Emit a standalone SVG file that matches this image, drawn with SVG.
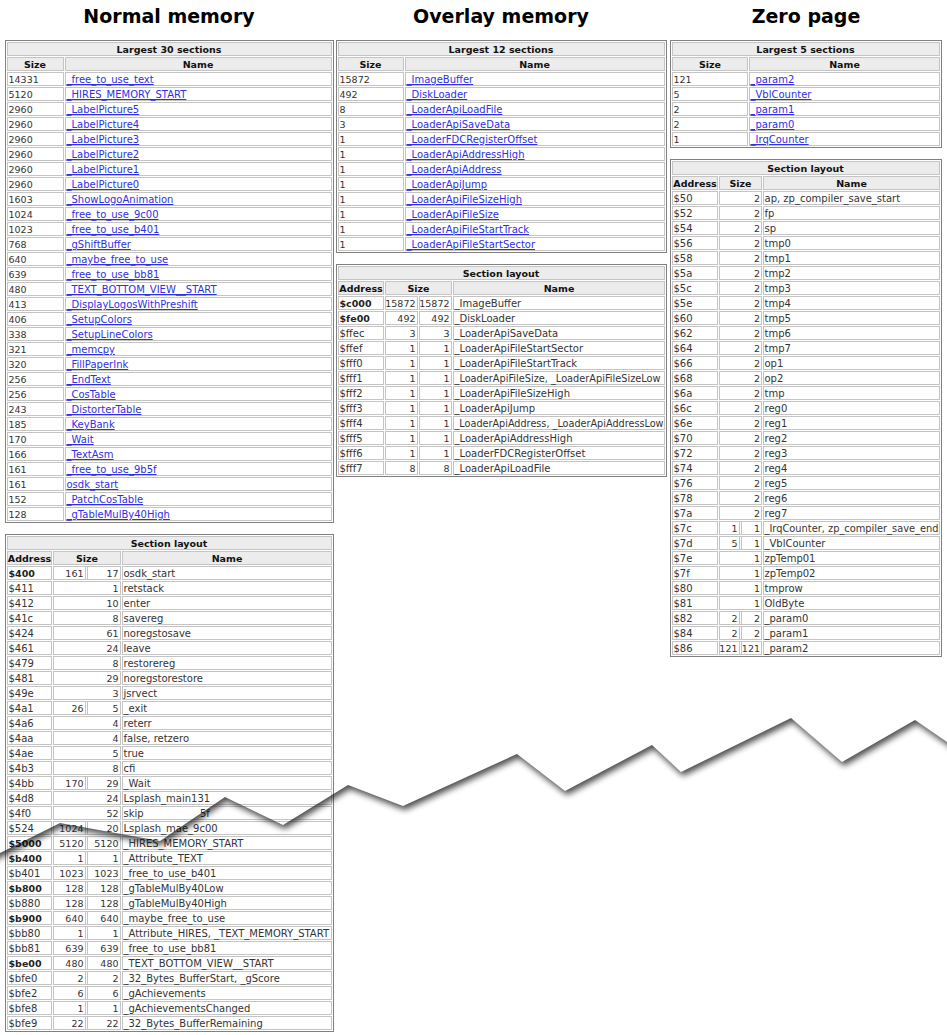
<svg xmlns="http://www.w3.org/2000/svg" width="947" height="1035" viewBox="0 0 947 1035">
<style>
text{font-family:"DejaVu Sans",Verdana,sans-serif;font-size:10px;fill:#333}
.t{font-weight:bold;font-size:19px;fill:#000;text-anchor:middle}
.h{font-weight:bold;font-size:9.5px;fill:#111;text-anchor:middle}
.n{font-size:9.5px}
.r{font-size:9.5px;text-anchor:end}
.b{font-weight:bold;font-size:9.5px;fill:#222}
.a{fill:#2f2fe6;text-decoration:underline}
.hd{fill:#ececec;stroke:#c4c4c4;stroke-width:1}
.ob{fill:none;stroke:#808080;stroke-width:1}
.vl{stroke:#c4c4c4;stroke-width:1;stroke-dasharray:14 1;fill:none}
.g{fill:url(#hl)}
</style>
<defs>
<pattern id="hl" width="10" height="15" patternUnits="userSpaceOnUse">
<rect x="0" y="0" width="10" height="1" fill="#c4c4c4"/>
<rect x="0" y="13" width="10" height="1" fill="#c4c4c4"/>
</pattern>
<clipPath id="below">
<path d="M-20,863 L0,853 L60,823 L160,841 L225,797 L283,825 L348,785 L403,806 L517,754 L565,791 L652,745 L681,772 L791,718 L842,762 L915,720 L947,742 L967,756 V1100 H-20 Z"/>
</clipPath>
<filter id="sh" filterUnits="userSpaceOnUse" x="-60" y="-60" width="1100" height="1200">
<feGaussianBlur in="SourceAlpha" stdDeviation="3.2"/>
<feOffset dx="2" dy="4"/>
<feComponentTransfer><feFuncA type="linear" slope="0.7"/></feComponentTransfer>
</filter>
</defs>
<rect width="947" height="1035" fill="#fff"/>

<text class="t" x="169" y="23">Normal memory</text>
<text class="t" x="501" y="23">Overlay memory</text>
<text class="t" x="806" y="23">Zero page</text>

<!-- Normal memory: Largest 30 sections -->
<g id="normal-largest">
<rect class="ob" x="5.5" y="40.5" width="328" height="482"/>
<rect class="hd" x="7.5" y="42.5" width="324" height="13"/>
<rect class="hd" x="7.5" y="57.5" width="56" height="13"/>
<rect class="hd" x="65.5" y="57.5" width="266" height="13"/>
<text class="h" x="169" y="53">Largest 30 sections</text>
<text class="h" x="35" y="68">Size</text>
<text class="h" x="198" y="68">Name</text>
<g transform="translate(0,72)">
<rect class="g" x="7" y="0" width="57" height="450"/>
<rect class="g" x="65" y="0" width="267" height="450"/>
<path class="vl" d="M7.5,0V450M63.5,0V450M65.5,0V450M331.5,0V450"/>
</g>
<text class="n" x="8.5" y="83">14331</text><text class="a" x="66.5" y="83">_free_to_use_text</text>
<text class="n" x="8.5" y="98">5120</text><text class="a" x="66.5" y="98">_HIRES_MEMORY_START</text>
<text class="n" x="8.5" y="113">2960</text><text class="a" x="66.5" y="113">_LabelPicture5</text>
<text class="n" x="8.5" y="128">2960</text><text class="a" x="66.5" y="128">_LabelPicture4</text>
<text class="n" x="8.5" y="143">2960</text><text class="a" x="66.5" y="143">_LabelPicture3</text>
<text class="n" x="8.5" y="158">2960</text><text class="a" x="66.5" y="158">_LabelPicture2</text>
<text class="n" x="8.5" y="173">2960</text><text class="a" x="66.5" y="173">_LabelPicture1</text>
<text class="n" x="8.5" y="188">2960</text><text class="a" x="66.5" y="188">_LabelPicture0</text>
<text class="n" x="8.5" y="203">1603</text><text class="a" x="66.5" y="203">_ShowLogoAnimation</text>
<text class="n" x="8.5" y="218">1024</text><text class="a" x="66.5" y="218">_free_to_use_9c00</text>
<text class="n" x="8.5" y="233">1023</text><text class="a" x="66.5" y="233">_free_to_use_b401</text>
<text class="n" x="8.5" y="248">768</text><text class="a" x="66.5" y="248">_gShiftBuffer</text>
<text class="n" x="8.5" y="263">640</text><text class="a" x="66.5" y="263">_maybe_free_to_use</text>
<text class="n" x="8.5" y="278">639</text><text class="a" x="66.5" y="278">_free_to_use_bb81</text>
<text class="n" x="8.5" y="293">480</text><text class="a" x="66.5" y="293">_TEXT_BOTTOM_VIEW__START</text>
<text class="n" x="8.5" y="308">413</text><text class="a" x="66.5" y="308">_DisplayLogosWithPreshift</text>
<text class="n" x="8.5" y="323">406</text><text class="a" x="66.5" y="323">_SetupColors</text>
<text class="n" x="8.5" y="338">338</text><text class="a" x="66.5" y="338">_SetupLineColors</text>
<text class="n" x="8.5" y="353">321</text><text class="a" x="66.5" y="353">_memcpy</text>
<text class="n" x="8.5" y="368">320</text><text class="a" x="66.5" y="368">_FillPaperInk</text>
<text class="n" x="8.5" y="383">256</text><text class="a" x="66.5" y="383">_EndText</text>
<text class="n" x="8.5" y="398">256</text><text class="a" x="66.5" y="398">_CosTable</text>
<text class="n" x="8.5" y="413">243</text><text class="a" x="66.5" y="413">_DistorterTable</text>
<text class="n" x="8.5" y="428">185</text><text class="a" x="66.5" y="428">_KeyBank</text>
<text class="n" x="8.5" y="443">170</text><text class="a" x="66.5" y="443">_Wait</text>
<text class="n" x="8.5" y="458">166</text><text class="a" x="66.5" y="458">_TextAsm</text>
<text class="n" x="8.5" y="473">161</text><text class="a" x="66.5" y="473">_free_to_use_9b5f</text>
<text class="n" x="8.5" y="488">161</text><text class="a" x="66.5" y="488">osdk_start</text>
<text class="n" x="8.5" y="503">152</text><text class="a" x="66.5" y="503">_PatchCosTable</text>
<text class="n" x="8.5" y="518">128</text><text class="a" x="66.5" y="518">_gTableMulBy40High</text>
</g>

<!-- Overlay memory: Largest 12 sections -->
<g id="overlay-largest">
<rect class="ob" x="336.5" y="40.5" width="330" height="212"/>
<rect class="hd" x="338.5" y="42.5" width="326" height="13"/>
<rect class="hd" x="338.5" y="57.5" width="65" height="13"/>
<rect class="hd" x="405.5" y="57.5" width="259" height="13"/>
<text class="h" x="501" y="53">Largest 12 sections</text>
<text class="h" x="370.5" y="68">Size</text>
<text class="h" x="534.5" y="68">Name</text>
<g transform="translate(0,72)">
<rect class="g" x="338" y="0" width="66" height="180"/>
<rect class="g" x="405" y="0" width="260" height="180"/>
<path class="vl" d="M338.5,0V180M403.5,0V180M405.5,0V180M664.5,0V180"/>
</g>
<text class="n" x="339.5" y="83">15872</text><text class="a" x="406.5" y="83">_ImageBuffer</text>
<text class="n" x="339.5" y="98">492</text><text class="a" x="406.5" y="98">_DiskLoader</text>
<text class="n" x="339.5" y="113">8</text><text class="a" x="406.5" y="113">_LoaderApiLoadFile</text>
<text class="n" x="339.5" y="128">3</text><text class="a" x="406.5" y="128">_LoaderApiSaveData</text>
<text class="n" x="339.5" y="143">1</text><text class="a" x="406.5" y="143">_LoaderFDCRegisterOffset</text>
<text class="n" x="339.5" y="158">1</text><text class="a" x="406.5" y="158">_LoaderApiAddressHigh</text>
<text class="n" x="339.5" y="173">1</text><text class="a" x="406.5" y="173">_LoaderApiAddress</text>
<text class="n" x="339.5" y="188">1</text><text class="a" x="406.5" y="188">_LoaderApiJump</text>
<text class="n" x="339.5" y="203">1</text><text class="a" x="406.5" y="203">_LoaderApiFileSizeHigh</text>
<text class="n" x="339.5" y="218">1</text><text class="a" x="406.5" y="218">_LoaderApiFileSize</text>
<text class="n" x="339.5" y="233">1</text><text class="a" x="406.5" y="233">_LoaderApiFileStartTrack</text>
<text class="n" x="339.5" y="248">1</text><text class="a" x="406.5" y="248">_LoaderApiFileStartSector</text>
</g>

<!-- Zero page: Largest 5 sections -->
<g id="zero-largest">
<rect class="ob" x="670.5" y="40.5" width="271" height="107"/>
<rect class="hd" x="672.5" y="42.5" width="267" height="13"/>
<rect class="hd" x="672.5" y="57.5" width="75" height="13"/>
<rect class="hd" x="749.5" y="57.5" width="190" height="13"/>
<text class="h" x="805.5" y="53">Largest 5 sections</text>
<text class="h" x="710" y="68">Size</text>
<text class="h" x="844.5" y="68">Name</text>
<g transform="translate(0,72)">
<rect class="g" x="672" y="0" width="76" height="75"/>
<rect class="g" x="749" y="0" width="191" height="75"/>
<path class="vl" d="M672.5,0V75M747.5,0V75M749.5,0V75M939.5,0V75"/>
</g>
<text class="n" x="673.5" y="83">121</text><text class="a" x="750.5" y="83">_param2</text>
<text class="n" x="673.5" y="98">5</text><text class="a" x="750.5" y="98">_VblCounter</text>
<text class="n" x="673.5" y="113">2</text><text class="a" x="750.5" y="113">_param1</text>
<text class="n" x="673.5" y="128">2</text><text class="a" x="750.5" y="128">_param0</text>
<text class="n" x="673.5" y="143">1</text><text class="a" x="750.5" y="143">_IrqCounter</text>
</g>

<!-- Overlay memory: Section layout -->
<g id="overlay-layout">
<rect class="ob" x="336.5" y="264.5" width="330" height="212"/>
<rect class="hd" x="338.5" y="266.5" width="326" height="13"/>
<rect class="hd" x="338.5" y="281.5" width="45" height="13"/>
<rect class="hd" x="385.5" y="281.5" width="66" height="13"/>
<rect class="hd" x="453.5" y="281.5" width="211" height="13"/>
<text class="h" x="501" y="277">Section layout</text>
<text class="h" x="361" y="292">Address</text>
<text class="h" x="418.5" y="292">Size</text>
<text class="h" x="559" y="292">Name</text>
<g transform="translate(0,296)">
<rect class="g" x="338" y="0" width="46" height="180"/>
<rect class="g" x="385" y="0" width="33" height="180"/>
<rect class="g" x="419" y="0" width="33" height="180"/>
<rect class="g" x="453" y="0" width="212" height="180"/>
<path class="vl" d="M338.5,0V180M383.5,0V180M385.5,0V180M417.5,0V180M419.5,0V180M451.5,0V180M453.5,0V180M664.5,0V180"/>
</g>
<text class="b" x="339.5" y="307">$c000</text><text class="r" x="415.5" y="307">15872</text><text class="r" x="449.5" y="307">15872</text><text x="454.5" y="307">_ImageBuffer</text>
<text class="b" x="339.5" y="322">$fe00</text><text class="r" x="415.5" y="322">492</text><text class="r" x="449.5" y="322">492</text><text x="454.5" y="322">_DiskLoader</text>
<text x="339.5" y="337">$ffec</text><text class="r" x="415.5" y="337">3</text><text class="r" x="449.5" y="337">3</text><text x="454.5" y="337">_LoaderApiSaveData</text>
<text x="339.5" y="352">$ffef</text><text class="r" x="415.5" y="352">1</text><text class="r" x="449.5" y="352">1</text><text x="454.5" y="352">_LoaderApiFileStartSector</text>
<text x="339.5" y="367">$fff0</text><text class="r" x="415.5" y="367">1</text><text class="r" x="449.5" y="367">1</text><text x="454.5" y="367">_LoaderApiFileStartTrack</text>
<text x="339.5" y="382">$fff1</text><text class="r" x="415.5" y="382">1</text><text class="r" x="449.5" y="382">1</text><text x="454.5" y="382" textLength="206" lengthAdjust="spacingAndGlyphs">_LoaderApiFileSize, _LoaderApiFileSizeLow</text>
<text x="339.5" y="397">$fff2</text><text class="r" x="415.5" y="397">1</text><text class="r" x="449.5" y="397">1</text><text x="454.5" y="397">_LoaderApiFileSizeHigh</text>
<text x="339.5" y="412">$fff3</text><text class="r" x="415.5" y="412">1</text><text class="r" x="449.5" y="412">1</text><text x="454.5" y="412">_LoaderApiJump</text>
<text x="339.5" y="427">$fff4</text><text class="r" x="415.5" y="427">1</text><text class="r" x="449.5" y="427">1</text><text x="454.5" y="427" textLength="209" lengthAdjust="spacingAndGlyphs">_LoaderApiAddress, _LoaderApiAddressLow</text>
<text x="339.5" y="442">$fff5</text><text class="r" x="415.5" y="442">1</text><text class="r" x="449.5" y="442">1</text><text x="454.5" y="442">_LoaderApiAddressHigh</text>
<text x="339.5" y="457">$fff6</text><text class="r" x="415.5" y="457">1</text><text class="r" x="449.5" y="457">1</text><text x="454.5" y="457">_LoaderFDCRegisterOffset</text>
<text x="339.5" y="472">$fff7</text><text class="r" x="415.5" y="472">8</text><text class="r" x="449.5" y="472">8</text><text x="454.5" y="472">_LoaderApiLoadFile</text>
</g>

<!-- Zero page: Section layout -->
<g id="zero-layout">
<rect class="ob" x="670.5" y="159.5" width="271" height="497"/>
<rect class="hd" x="672.5" y="161.5" width="267" height="13"/>
<rect class="hd" x="672.5" y="176.5" width="45" height="13"/>
<rect class="hd" x="719.5" y="176.5" width="42" height="13"/>
<rect class="hd" x="763.5" y="176.5" width="176" height="13"/>
<text class="h" x="805.5" y="172">Section layout</text>
<text class="h" x="695" y="187">Address</text>
<text class="h" x="740.5" y="187">Size</text>
<text class="h" x="851.5" y="187">Name</text>
<g transform="translate(0,191)">
<rect class="g" x="672" y="0" width="46" height="465"/>
<rect class="g" x="719" y="0" width="43" height="465"/>
<rect class="g" x="763" y="0" width="177" height="465"/>
<path class="vl" d="M672.5,0V465M717.5,0V465M719.5,0V465M761.5,0V465M763.5,0V465M939.5,0V465M739.5,330V360M741.5,330V360M739.5,420V465M741.5,420V465"/>
</g>
<text x="673.5" y="202">$50</text><text class="r" x="760" y="202">2</text><text x="764.5" y="202">ap, zp_compiler_save_start</text>
<text x="673.5" y="217">$52</text><text class="r" x="760" y="217">2</text><text x="764.5" y="217">fp</text>
<text x="673.5" y="232">$54</text><text class="r" x="760" y="232">2</text><text x="764.5" y="232">sp</text>
<text x="673.5" y="247">$56</text><text class="r" x="760" y="247">2</text><text x="764.5" y="247">tmp0</text>
<text x="673.5" y="262">$58</text><text class="r" x="760" y="262">2</text><text x="764.5" y="262">tmp1</text>
<text x="673.5" y="277">$5a</text><text class="r" x="760" y="277">2</text><text x="764.5" y="277">tmp2</text>
<text x="673.5" y="292">$5c</text><text class="r" x="760" y="292">2</text><text x="764.5" y="292">tmp3</text>
<text x="673.5" y="307">$5e</text><text class="r" x="760" y="307">2</text><text x="764.5" y="307">tmp4</text>
<text x="673.5" y="322">$60</text><text class="r" x="760" y="322">2</text><text x="764.5" y="322">tmp5</text>
<text x="673.5" y="337">$62</text><text class="r" x="760" y="337">2</text><text x="764.5" y="337">tmp6</text>
<text x="673.5" y="352">$64</text><text class="r" x="760" y="352">2</text><text x="764.5" y="352">tmp7</text>
<text x="673.5" y="367">$66</text><text class="r" x="760" y="367">2</text><text x="764.5" y="367">op1</text>
<text x="673.5" y="382">$68</text><text class="r" x="760" y="382">2</text><text x="764.5" y="382">op2</text>
<text x="673.5" y="397">$6a</text><text class="r" x="760" y="397">2</text><text x="764.5" y="397">tmp</text>
<text x="673.5" y="412">$6c</text><text class="r" x="760" y="412">2</text><text x="764.5" y="412">reg0</text>
<text x="673.5" y="427">$6e</text><text class="r" x="760" y="427">2</text><text x="764.5" y="427">reg1</text>
<text x="673.5" y="442">$70</text><text class="r" x="760" y="442">2</text><text x="764.5" y="442">reg2</text>
<text x="673.5" y="457">$72</text><text class="r" x="760" y="457">2</text><text x="764.5" y="457">reg3</text>
<text x="673.5" y="472">$74</text><text class="r" x="760" y="472">2</text><text x="764.5" y="472">reg4</text>
<text x="673.5" y="487">$76</text><text class="r" x="760" y="487">2</text><text x="764.5" y="487">reg5</text>
<text x="673.5" y="502">$78</text><text class="r" x="760" y="502">2</text><text x="764.5" y="502">reg6</text>
<text x="673.5" y="517">$7a</text><text class="r" x="760" y="517">2</text><text x="764.5" y="517">reg7</text>
<text x="673.5" y="532">$7c</text><text class="r" x="737.5" y="532">1</text><text class="r" x="760" y="532">1</text><text x="764.5" y="532" textLength="174" lengthAdjust="spacingAndGlyphs">_IrqCounter, zp_compiler_save_end</text>
<text x="673.5" y="547">$7d</text><text class="r" x="737.5" y="547">5</text><text class="r" x="760" y="547">1</text><text x="764.5" y="547">_VblCounter</text>
<text x="673.5" y="562">$7e</text><text class="r" x="760" y="562">1</text><text x="764.5" y="562">zpTemp01</text>
<text x="673.5" y="577">$7f</text><text class="r" x="760" y="577">1</text><text x="764.5" y="577">zpTemp02</text>
<text x="673.5" y="592">$80</text><text class="r" x="760" y="592">1</text><text x="764.5" y="592">tmprow</text>
<text x="673.5" y="607">$81</text><text class="r" x="760" y="607">1</text><text x="764.5" y="607">OldByte</text>
<text x="673.5" y="622">$82</text><text class="r" x="737.5" y="622">2</text><text class="r" x="760" y="622">2</text><text x="764.5" y="622">_param0</text>
<text x="673.5" y="637">$84</text><text class="r" x="737.5" y="637">2</text><text class="r" x="760" y="637">2</text><text x="764.5" y="637">_param1</text>
<text x="673.5" y="652">$86</text><text class="r" x="737.5" y="652">121</text><text class="r" x="760" y="652">121</text><text x="764.5" y="652">_param2</text>
</g>

<!-- Normal memory: Section layout -->
<g id="normal-layout">
<rect class="ob" x="5.5" y="534.5" width="328" height="497"/>
<rect class="hd" x="7.5" y="536.5" width="324" height="13"/>
<rect class="hd" x="7.5" y="551.5" width="44" height="13"/>
<rect class="hd" x="53.5" y="551.5" width="67" height="13"/>
<rect class="hd" x="122.5" y="551.5" width="209" height="13"/>
<text class="h" x="169" y="547">Section layout</text>
<text class="h" x="29.5" y="562">Address</text>
<text class="h" x="87" y="562">Size</text>
<text class="h" x="227" y="562">Name</text>
<g transform="translate(0,566)">
<rect class="g" x="7" y="0" width="45" height="465"/>
<rect class="g" x="53" y="0" width="68" height="465"/>
<rect class="g" x="122" y="0" width="210" height="465"/>
<path class="vl" d="M7.5,0V465M51.5,0V465M53.5,0V465M120.5,0V465M122.5,0V465M331.5,0V465M85.5,0V15M87.5,0V15M85.5,135V150M87.5,135V150M85.5,210V225M87.5,210V225M85.5,255V465M87.5,255V465"/>
</g>
<text class="b" x="8.5" y="577">$400</text><text class="r" x="83.5" y="577">161</text><text class="r" x="118.5" y="577">17</text><text x="123.5" y="577">osdk_start</text>
<text x="8.5" y="592">$411</text><text class="r" x="118.5" y="592">1</text><text x="123.5" y="592">retstack</text>
<text x="8.5" y="607">$412</text><text class="r" x="118.5" y="607">10</text><text x="123.5" y="607">enter</text>
<text x="8.5" y="622">$41c</text><text class="r" x="118.5" y="622">8</text><text x="123.5" y="622">savereg</text>
<text x="8.5" y="637">$424</text><text class="r" x="118.5" y="637">61</text><text x="123.5" y="637">noregstosave</text>
<text x="8.5" y="652">$461</text><text class="r" x="118.5" y="652">24</text><text x="123.5" y="652">leave</text>
<text x="8.5" y="667">$479</text><text class="r" x="118.5" y="667">8</text><text x="123.5" y="667">restorereg</text>
<text x="8.5" y="682">$481</text><text class="r" x="118.5" y="682">29</text><text x="123.5" y="682">noregstorestore</text>
<text x="8.5" y="697">$49e</text><text class="r" x="118.5" y="697">3</text><text x="123.5" y="697">jsrvect</text>
<text x="8.5" y="712">$4a1</text><text class="r" x="83.5" y="712">26</text><text class="r" x="118.5" y="712">5</text><text x="123.5" y="712">_exit</text>
<text x="8.5" y="727">$4a6</text><text class="r" x="118.5" y="727">4</text><text x="123.5" y="727">reterr</text>
<text x="8.5" y="742">$4aa</text><text class="r" x="118.5" y="742">4</text><text x="123.5" y="742">false, retzero</text>
<text x="8.5" y="757">$4ae</text><text class="r" x="118.5" y="757">5</text><text x="123.5" y="757">true</text>
<text x="8.5" y="772">$4b3</text><text class="r" x="118.5" y="772">8</text><text x="123.5" y="772">cfi</text>
<text x="8.5" y="787">$4bb</text><text class="r" x="83.5" y="787">170</text><text class="r" x="118.5" y="787">29</text><text x="123.5" y="787">_Wait</text>
<text x="8.5" y="802">$4d8</text><text class="r" x="118.5" y="802">24</text><text x="123.5" y="802">Lsplash_main131</text>
<text x="8.5" y="817">$4f0</text><text class="r" x="118.5" y="817">52</text><text x="123.5" y="817">skip</text><text x="200" y="817">5f</text>
<text x="8.5" y="832">$524</text><text class="r" x="83.5" y="832">1024</text><text class="r" x="118.5" y="832">20</text><text x="123.5" y="832">Lsplash_mae_9c00</text>
<text class="b" x="8.5" y="847">$5000</text><text class="r" x="83.5" y="847">5120</text><text class="r" x="118.5" y="847">5120</text><text x="123.5" y="847">_HIRES_MEMORY_START</text>
<text class="b" x="8.5" y="862">$b400</text><text class="r" x="83.5" y="862">1</text><text class="r" x="118.5" y="862">1</text><text x="123.5" y="862">_Attribute_TEXT</text>
<text x="8.5" y="877">$b401</text><text class="r" x="83.5" y="877">1023</text><text class="r" x="118.5" y="877">1023</text><text x="123.5" y="877">_free_to_use_b401</text>
<text class="b" x="8.5" y="892">$b800</text><text class="r" x="83.5" y="892">128</text><text class="r" x="118.5" y="892">128</text><text x="123.5" y="892">_gTableMulBy40Low</text>
<text x="8.5" y="907">$b880</text><text class="r" x="83.5" y="907">128</text><text class="r" x="118.5" y="907">128</text><text x="123.5" y="907">_gTableMulBy40High</text>
<text class="b" x="8.5" y="922">$b900</text><text class="r" x="83.5" y="922">640</text><text class="r" x="118.5" y="922">640</text><text x="123.5" y="922">_maybe_free_to_use</text>
<text x="8.5" y="937">$bb80</text><text class="r" x="83.5" y="937">1</text><text class="r" x="118.5" y="937">1</text><text x="123.5" y="937">_Attribute_HIRES, _TEXT_MEMORY_START</text>
<text x="8.5" y="952">$bb81</text><text class="r" x="83.5" y="952">639</text><text class="r" x="118.5" y="952">639</text><text x="123.5" y="952">_free_to_use_bb81</text>
<text class="b" x="8.5" y="967">$be00</text><text class="r" x="83.5" y="967">480</text><text class="r" x="118.5" y="967">480</text><text x="123.5" y="967">_TEXT_BOTTOM_VIEW__START</text>
<text x="8.5" y="982">$bfe0</text><text class="r" x="83.5" y="982">2</text><text class="r" x="118.5" y="982">2</text><text x="123.5" y="982">_32_Bytes_BufferStart, _gScore</text>
<text x="8.5" y="997">$bfe2</text><text class="r" x="83.5" y="997">6</text><text class="r" x="118.5" y="997">6</text><text x="123.5" y="997">_gAchievements</text>
<text x="8.5" y="1012">$bfe8</text><text class="r" x="83.5" y="1012">1</text><text class="r" x="118.5" y="1012">1</text><text x="123.5" y="1012">_gAchievementsChanged</text>
<text x="8.5" y="1027">$bfe9</text><text class="r" x="83.5" y="1027">22</text><text class="r" x="118.5" y="1027">22</text><text x="123.5" y="1027">_32_Bytes_BufferRemaining</text>
</g>

<!-- torn edge shadow -->
<g id="tear" clip-path="url(#below)">
<path filter="url(#sh)" fill="#000" d="M-20,-20 H967 V756 L947,742 L915,720 L842,762 L791,718 L681,772 L652,745 L565,791 L517,754 L403,806 L348,785 L283,825 L225,797 L160,841 L60,823 L0,853 L-20,863 Z"/>
</g>
</svg>
